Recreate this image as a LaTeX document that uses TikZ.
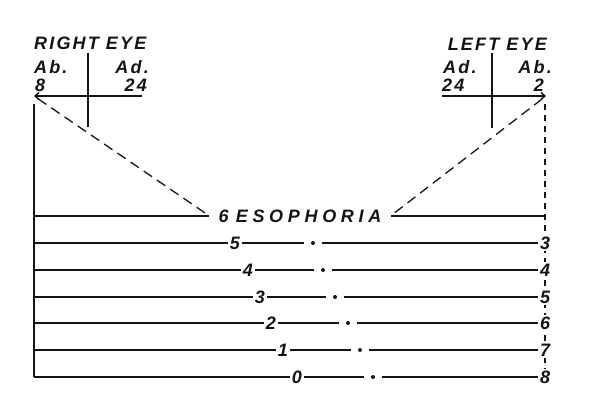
\documentclass[tikz,border=0pt]{standalone}
\usepackage{fontspec}
\setmainfont{Liberation Sans}
\usepackage{tikz}
\usetikzlibrary{arrows.meta,positioning}
\definecolor{chartInk}{HTML}{141414}

\begin{document}
\begin{tikzpicture}[
    x=1pt, y=-1pt,
    font=\fontsize{18}{18}\selectfont\bfseries\itshape\addfontfeature{LetterSpace=12},
    lettering/.style={inner sep=1pt, text=chartInk},
    digit/.style={inner sep=2pt, fill=white, text=chartInk},
    dotmark/.style={circle, fill=chartInk, inner sep=0pt, minimum size=4pt, outer sep=7pt},
    rule/.style={line width=1.4pt, chartInk},
    pointer/.style={rule, -{Straight Barb[length=4pt, width=7pt]}},
    sightline/.style={line width=1.3pt, chartInk, dash pattern=on 10pt off 6pt},
    dashedge/.style={line width=1.3pt, chartInk, dash pattern=on 6pt off 5pt}
]
\useasboundingbox (0,0) rectangle (600,418);

% right eye cross
\node[lettering, anchor=west] (righteye) at (33,43) {RIGHT EYE};
\node[lettering, anchor=west] (rab) at (33,67) {Ab.};
\node[lettering, anchor=east] (rad) at (150,67) {Ad.};
\node[lettering, anchor=west] (rabval) at (34,85) {8};
\node[lettering, anchor=east] (radval) at (148,85) {24};
\coordinate (rtop) at (88,53);
\coordinate (rbot) at (88,127);
\coordinate (rstart) at (142,96);
\coordinate (rtip) at (34,96);
\coordinate (rfoot) at (34,104);

% left eye cross
\node[lettering, anchor=east] (lefteye) at (548,44) {LEFT EYE};
\node[lettering, anchor=west] (lad) at (442,67) {Ad.};
\node[lettering, anchor=east] (lab) at (553,67) {Ab.};
\node[lettering, anchor=west] (ladval) at (441,85) {24};
\node[lettering, anchor=east] (labval) at (545,85) {2};
\coordinate (ltop) at (492,53);
\coordinate (lbot) at (492,128);
\coordinate (lstart) at (442,96);
\coordinate (ltip) at (546,96);
\coordinate (lfoot) at (545,104);
\coordinate (lbase) at (545,379);

\draw[rule] (rtop) -- (rbot);
\draw[pointer] (rstart) -- (rtip);
\draw[rule] (ltop) -- (lbot);
\draw[pointer] (lstart) -- (ltip);
\draw[dashedge] (lfoot) -- (lbase);

% esophoria row
\node[digit, inner xsep=9pt] (eso) at (300,216)
    {6 \addfontfeature{LetterSpace=26}ESOPHORIA};
\coordinate (a6) at (34,216);
\coordinate (r6) at (545,216);
\draw[rule] (a6) -- (eso) -- (r6);
\draw[sightline, shorten <=5pt] (rtip) -- (eso.west);
\draw[sightline, shorten <=5pt] (ltip) -- (eso.east);

% scale rows
\foreach \n/\y/\lx/\dx/\rv in {5/243/235/313/3, 4/270/248/323/4, 3/297/260/335/5,
                               2/323/271/348/6, 1/350/283/360/7, 0/377/297/373/8} {
    \coordinate (a\n) at (34,\y);
    \node[digit] (l\n) at (\lx,\y) {\n};
    \node[dotmark] (d\n) at (\dx,\y) {};
    \node[digit] (r\n) at (545,\y) {\rv};
    \draw[rule] (a\n) -- (l\n) -- (d\n) -- (r\n);
}

\draw[rule] (rfoot) -- (a0);

\end{tikzpicture}
\end{document}
